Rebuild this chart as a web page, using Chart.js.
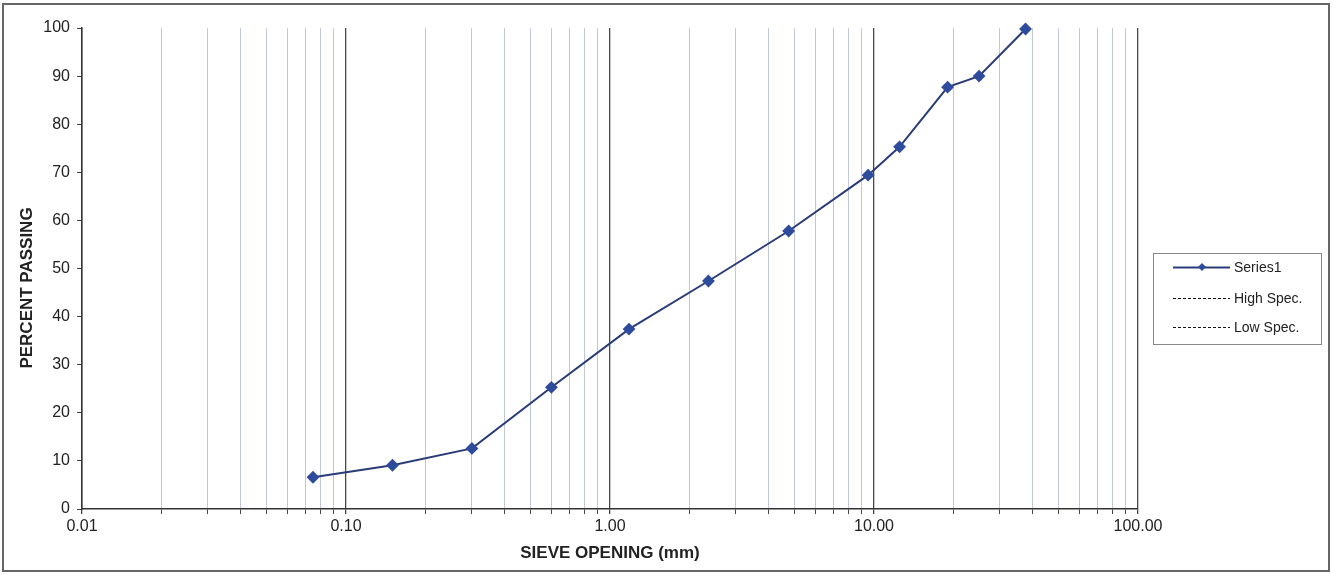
<!DOCTYPE html>
<html>
<head>
<meta charset="utf-8">
<script src="https://cdn.jsdelivr.net/npm/chart.js@4/dist/chart.umd.min.js"></script>
<style>
  body { margin: 0; background: #fff; }
  #wrap { width: 1333px; height: 575px; }
</style>
</head>
<body>
<div id="wrap"><canvas id="chart-canvas"></canvas></div>
<script>
// sieve sizes (mm) and percent passing
const sieveSizes = [0.075, 0.15, 0.3, 0.6, 1.18, 2.36, 4.75, 9.5, 12.5, 19, 25, 37.5];
const percentPassing = [6.6, 9.1, 12.6, 25.3, 37.4, 47.4, 57.8, 69.4, 75.3, 87.7, 90.0, 99.8];
const highSpec = [];
const lowSpec = [];
const seriesLabels = ['Series1', 'High Spec.', 'Low Spec.'];
const xTickLabels = ['0.01', '0.10', '1.00', '10.00', '100.00'];
const yTicks = [0, 10, 20, 30, 40, 50, 60, 70, 80, 90, 100];

const FONT = 'Liberation Sans, Arial, sans-serif';

function isDecade(v) {
    const l = Math.log10(v);
    return Math.abs(l - Math.round(l)) < 1e-6;
}

// white page, outer frame, y title and the boxed legend
const framePlugin = {
    id: 'frame',
    beforeDraw(chart) {
        const c = chart.ctx;
        c.save();
        c.fillStyle = '#fff';
        c.fillRect(0, 0, chart.width, chart.height);
        c.restore();
    },
    afterDraw(chart) {
        const c = chart.ctx;
        c.save();
        c.strokeStyle = '#666';
        c.lineWidth = 2;
        c.strokeRect(3, 4, 1326, 567);

        // y axis title
        c.translate(27, 288);
        c.rotate(-Math.PI / 2);
        c.fillStyle = '#222';
        c.font = 'bold 17px ' + FONT;
        c.textAlign = 'center';
        c.textBaseline = 'middle';
        c.fillText('PERCENT PASSING', 0, 0);
        c.restore();

        // legend
        c.save();
        c.strokeStyle = '#888';
        c.lineWidth = 1;
        c.strokeRect(1153.5, 253.5, 168, 91);
        const rows = [267, 298, 327];
        chart.data.datasets.forEach((ds, i) => {
            const y = rows[i];
            c.strokeStyle = ds.borderColor;
            c.lineWidth = ds.borderDash.length ? 1 : 2;
            c.setLineDash(ds.borderDash);
            c.beginPath();
            c.moveTo(1173, y + 0.5);
            c.lineTo(1230, y + 0.5);
            c.stroke();
            c.setLineDash([]);
            if (ds.pointRadius > 0) {
                c.fillStyle = ds.pointBackgroundColor;
                c.beginPath();
                c.moveTo(1202, y - 4);
                c.lineTo(1206, y);
                c.lineTo(1202, y + 4);
                c.lineTo(1198, y);
                c.closePath();
                c.fill();
            }
            c.fillStyle = '#222';
            c.font = '14px ' + FONT;
            c.textAlign = 'left';
            c.textBaseline = 'middle';
            c.fillText(ds.label, 1234, y + 1);
        });
        c.restore();
    }
};

const ctx = document.getElementById('chart-canvas').getContext('2d');

new Chart(ctx, {
    type: 'line',
    data: {
        datasets: [{
            label: seriesLabels[0],
            data: sieveSizes.map((s, i) => ({ x: s, y: percentPassing[i] })),
            borderColor: '#2a3c78',
            borderWidth: 2,
            borderDash: [],
            pointStyle: 'rectRot',
            pointRadius: 5,
            pointBackgroundColor: '#2f4b9c',
            pointBorderColor: '#2f4b9c',
            tension: 0,
            clip: false
        }, {
            label: seriesLabels[1],
            data: highSpec,
            borderColor: '#111',
            borderWidth: 1,
            borderDash: [3, 2],
            pointRadius: 0
        }, {
            label: seriesLabels[2],
            data: lowSpec,
            borderColor: '#111',
            borderWidth: 1,
            borderDash: [3, 2],
            pointRadius: 0
        }]
    },
    options: {
        responsive: true,
        maintainAspectRatio: false,
        animation: false,
        layout: { padding: { left: 0, right: 195, top: 28, bottom: 0 } },
        plugins: {
            legend: { display: false },
            tooltip: { enabled: false }
        },
        scales: {
            x: {
                type: 'logarithmic',
                min: 0.01,
                max: 100,
                afterBuildTicks: (scale) => {
                    const t = [];
                    for (let e = -2; e < 2; e++) {
                        for (let m = 1; m < 10; m++) t.push({ value: m * Math.pow(10, e) });
                    }
                    t.push({ value: 100 });
                    scale.ticks = t;
                },
                afterFit: (scale) => { scale.height = 66; },
                grid: {
                    color: (c) => isDecade(c.tick.value) ? '#4a4a4a' : 'rgba(140,155,185,0.55)',
                    lineWidth: (c) => isDecade(c.tick.value) ? 1.3 : 1,
                    tickLength: 5,
                    tickColor: '#444'
                },
                border: { color: '#333', width: 1.5 },
                ticks: {
                    autoSkip: false,
                    maxRotation: 0,
                    padding: 3,
                    color: '#222',
                    font: { family: FONT, size: 16 },
                    callback: (v) => isDecade(v) ? xTickLabels[Math.round(Math.log10(v)) + 2] : ''
                },
                title: {
                    display: true,
                    text: 'SIEVE OPENING (mm)',
                    color: '#222',
                    font: { family: FONT, size: 17, weight: 'bold' },
                    padding: { top: 0, bottom: 11 }
                }
            },
            y: {
                min: 0,
                max: 100,
                afterBuildTicks: (scale) => { scale.ticks = yTicks.map(v => ({ value: v })); },
                afterFit: (scale) => { scale.width = 82; },
                grid: {
                    drawOnChartArea: false,
                    tickLength: 5,
                    tickColor: '#444'
                },
                border: { color: '#333', width: 1.5 },
                ticks: {
                    padding: 7,
                    color: '#222',
                    font: { family: FONT, size: 16 }
                }
            }
        }
    },
    plugins: [framePlugin]
});
</script>
</body>
</html>
